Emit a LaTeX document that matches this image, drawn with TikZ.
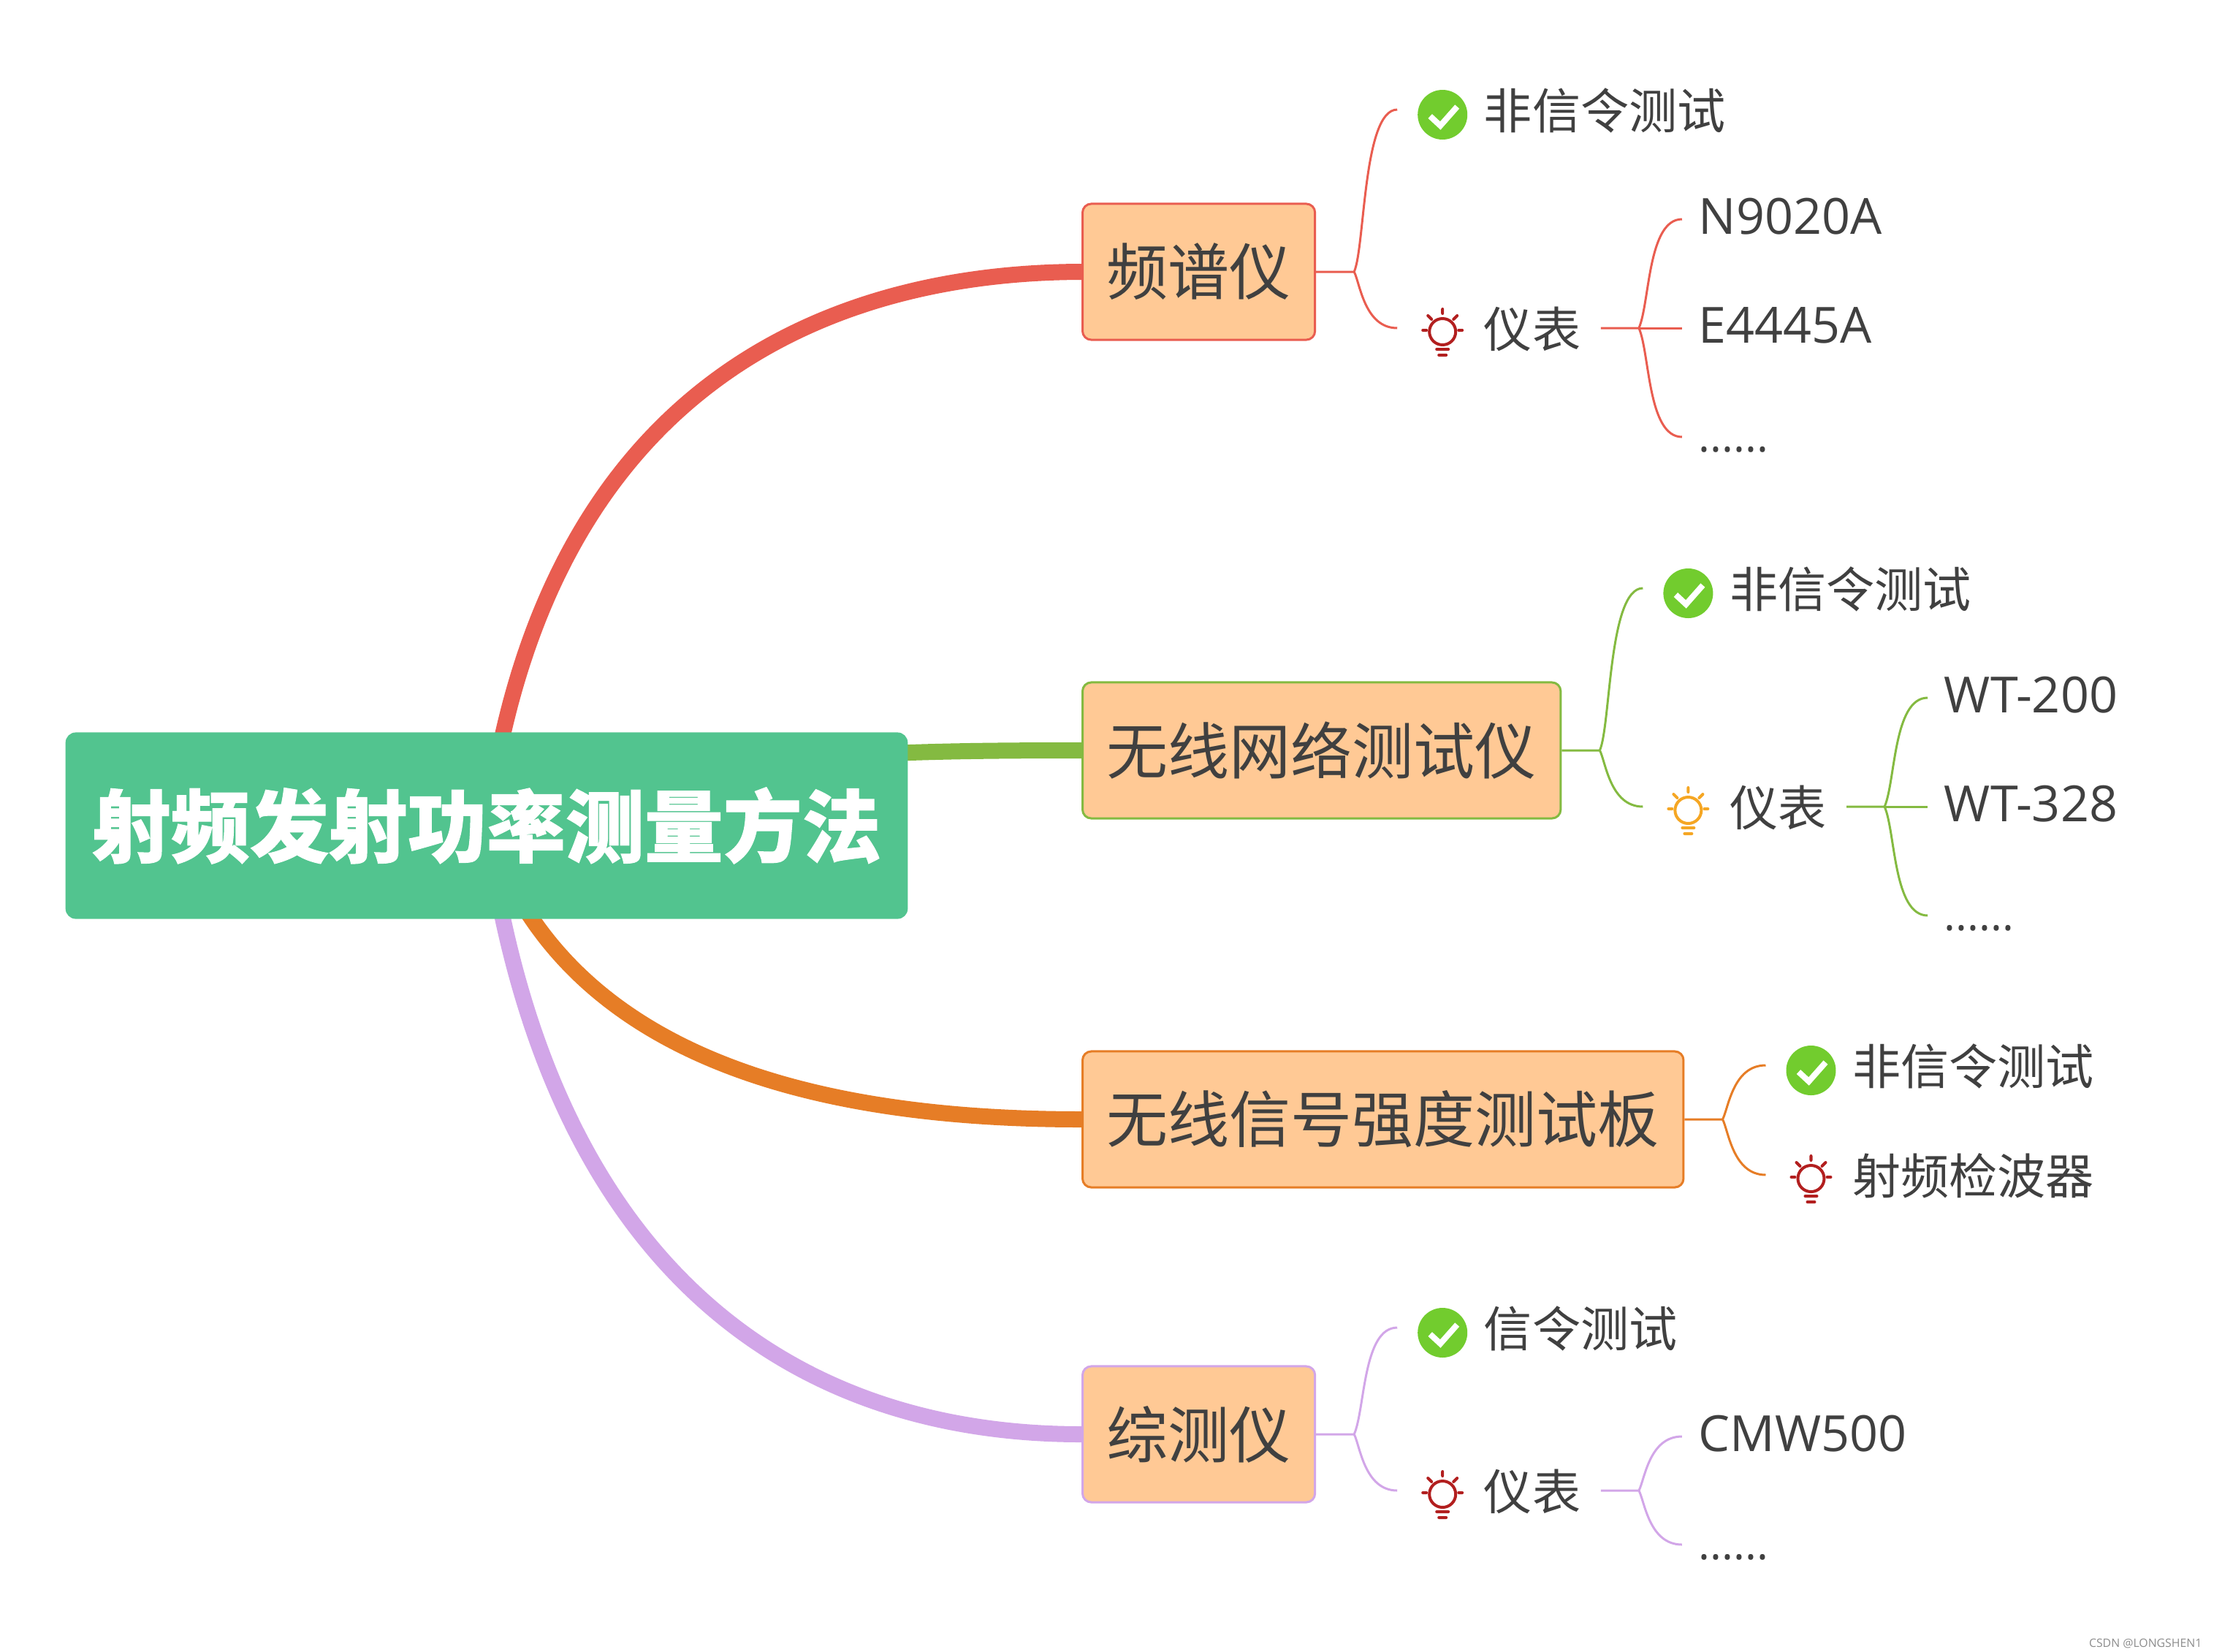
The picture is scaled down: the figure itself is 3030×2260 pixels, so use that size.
\documentclass[tikz,border=0pt]{standalone}
\usepackage{fontspec}
\setmainfont{Open Sans}
\newfontfamily\cjk{Noto Sans CJK SC}
\newfontfamily\cjkheavy[BoldFeatures={FakeBold=1}]{Noto Sans CJK SC}
\definecolor{rootgreen}{RGB}{82,196,143}
\definecolor{topicfill}{RGB}{255,201,149}
\definecolor{inktext}{RGB}{64,64,64}
\definecolor{redline}{RGB}{233,93,80}
\definecolor{greenline}{RGB}{132,186,65}
\definecolor{orangeline}{RGB}{230,125,38}
\definecolor{purpleline}{RGB}{210,166,232}
\definecolor{tickgreen}{RGB}{114,204,46}
\definecolor{bulbred}{RGB}{178,31,31}
\definecolor{bulbamber}{RGB}{245,166,35}
\usetikzlibrary{calc, backgrounds}
\newcommand{\moredots}{{\fontsize{17pt}{20pt}\selectfont ......}}
\tikzset{
  pics/tickicon/.style={code={
    \fill[tickgreen] (0,0) circle (34);
    \draw[white, line width=.08cm] (-17,2) -- (-3,15) -- (20,-11);
  }},
  pics/bulbicon/.style={code={
    \draw[#1, line width=.04cm] (0,5) circle (18);
    \draw[#1, line width=.04cm, line cap=round] (0,-26) -- (0,-20) (-27,3) -- (-22,3) (27,3) -- (22,3)
      (-20,-17) -- (-15,-12) (20,-17) -- (15,-12) (-8,29) -- (8,29) (-5,37) -- (5,37);
  }}
}
\begin{document}
\begin{tikzpicture}[
  x=.01cm, y=-.01cm,
  rootbox/.style={fill=rootgreen, rounded corners=.14cm, minimum width=11.52cm, minimum height=2.55cm, text=white, font=\cjkheavy\bfseries\fontsize{30.7pt}{34pt}\selectfont},
  topicbox/.style={draw=#1, fill=topicfill, line width=.03cm, rounded corners=.12cm, anchor=west, minimum height=1.86cm, inner xsep=.33cm, text=inktext, font=\cjk\fontsize{23.9pt}{28pt}\selectfont},
  leaf/.style={anchor=west, inner xsep=.27cm, inner ysep=0pt, text height=.68cm, text depth=.16cm, text=inktext, font=\cjk\fontsize{18.8pt}{22pt}\selectfont},
  iconleaf/.style={leaf, execute at begin node={\hspace{.91cm}}},
  modelleaf/.style={leaf, inner xsep=.22cm, text height=.56cm, font=\fontsize{19.4pt}{22pt}\selectfont},
  limb/.style={line width=.22cm, draw=#1},
  twig/.style={line width=.03cm, draw=#1}
]
  \useasboundingbox (0,0) rectangle (3030,2260);

  \node[rootbox] (root) at (666,1130) {射频发射功率测量方法};
  \node[topicbox=redline] (t1) at (1480,372) {频谱仪};
  \node[topicbox=greenline] (t2) at (1480,1027) {无线网络测试仪};
  \node[topicbox=orangeline] (t3) at (1480,1532) {无线信号强度测试板};
  \node[topicbox=purpleline] (t4) at (1480,1963) {综测仪};

  \begin{scope}[on background layer]
    \draw[limb=redline] (root.center) .. controls (745,530) and (1130,373) .. (t1.west);
    \draw[limb=greenline] (root.center) .. controls (900,1032) and (1200,1027) .. (t2.west);
    \draw[limb=orangeline] (root.center) .. controls (770,1450) and (1120,1532) .. (t3.west);
    \draw[limb=purpleline] (root.center) .. controls (745,1710) and (1060,1963) .. (t4.west);
  \end{scope}

  \node[iconleaf] (a1) at ($(t1.east)+(111,-222)$) {非信令测试};
  \node[iconleaf] (b1) at ($(t1.east)+(111,77)$) {仪表};
  \node[modelleaf] (m11) at ($(b1.east)+(111,-149)$) {N9020A};
  \node[modelleaf] (m12) at ($(b1.east)+(111,0)$) {E4445A};
  \node[modelleaf] (m13) at ($(b1.east)+(111,149)$) {\moredots};

  \node[iconleaf] (a2) at ($(t2.east)+(111,-222)$) {非信令测试};
  \node[iconleaf] (b2) at ($(t2.east)+(111,77)$) {仪表};
  \node[modelleaf] (m21) at ($(b2.east)+(111,-149)$) {WT-200};
  \node[modelleaf] (m22) at ($(b2.east)+(111,0)$) {WT-328};
  \node[modelleaf] (m23) at ($(b2.east)+(111,149)$) {\moredots};

  \node[iconleaf] (a3) at ($(t3.east)+(111,-74)$) {非信令测试};
  \node[iconleaf] (b3) at ($(t3.east)+(111,76)$) {射频检波器};

  \node[iconleaf] (a4) at ($(t4.east)+(111,-146)$) {信令测试};
  \node[iconleaf] (b4) at ($(t4.east)+(111,77)$) {仪表};
  \node[modelleaf] (m41) at ($(b4.east)+(111,-74)$) {CMW500};
  \node[modelleaf] (m42) at ($(b4.east)+(111,74)$) {\moredots};

  \pic at ($(a1.west)+(62,7)$) {tickicon};
  \pic at ($(b1.west)+(62,0)$) {bulbicon=bulbred};
  \pic at ($(a2.west)+(62,7)$) {tickicon};
  \pic at ($(b2.west)+(62,0)$) {bulbicon=bulbamber};
  \pic at ($(a3.west)+(62,7)$) {tickicon};
  \pic at ($(b3.west)+(62,0)$) {bulbicon=bulbred};
  \pic at ($(a4.west)+(62,7)$) {tickicon};
  \pic at ($(b4.west)+(62,0)$) {bulbicon=bulbred};

  \draw[twig=redline] (t1.east) -- ++(52,0) coordinate (f1) .. controls +(15,-34) and +(-47,0) .. (a1.west);
  \draw[twig=redline] (f1) .. controls +(8,15) and +(-45,0) .. (b1.west);
  \draw[twig=redline] (b1.east) -- ++(52,0) coordinate (g1) .. controls +(15,-34) and +(-47,0) .. (m11.west);
  \draw[twig=redline] (g1) -- (m12.west);
  \draw[twig=redline] (g1) .. controls +(15,34) and +(-47,0) .. (m13.west);

  \draw[twig=greenline] (t2.east) -- ++(52,0) coordinate (f2) .. controls +(15,-34) and +(-47,0) .. (a2.west);
  \draw[twig=greenline] (f2) .. controls +(8,15) and +(-45,0) .. (b2.west);
  \draw[twig=greenline] (b2.east) -- ++(52,0) coordinate (g2) .. controls +(15,-34) and +(-47,0) .. (m21.west);
  \draw[twig=greenline] (g2) -- (m22.west);
  \draw[twig=greenline] (g2) .. controls +(15,34) and +(-47,0) .. (m23.west);

  \draw[twig=orangeline] (t3.east) -- ++(52,0) coordinate (f3) .. controls +(8,-15) and +(-45,0) .. (a3.west);
  \draw[twig=orangeline] (f3) .. controls +(8,15) and +(-45,0) .. (b3.west);

  \draw[twig=purpleline] (t4.east) -- ++(52,0) coordinate (f4) .. controls +(15,-34) and +(-47,0) .. (a4.west);
  \draw[twig=purpleline] (f4) .. controls +(8,15) and +(-45,0) .. (b4.west);
  \draw[twig=purpleline] (b4.east) -- ++(52,0) coordinate (g4) .. controls +(8,-15) and +(-45,0) .. (m41.west);
  \draw[twig=purpleline] (g4) .. controls +(8,15) and +(-45,0) .. (m42.west);

  \node[anchor=east, inner sep=0pt, text=black!45, font=\fontsize{4.5pt}{5pt}\selectfont] (mark) at (3014,2249) {CSDN @LONGSHEN1};
\end{tikzpicture}
\end{document}
